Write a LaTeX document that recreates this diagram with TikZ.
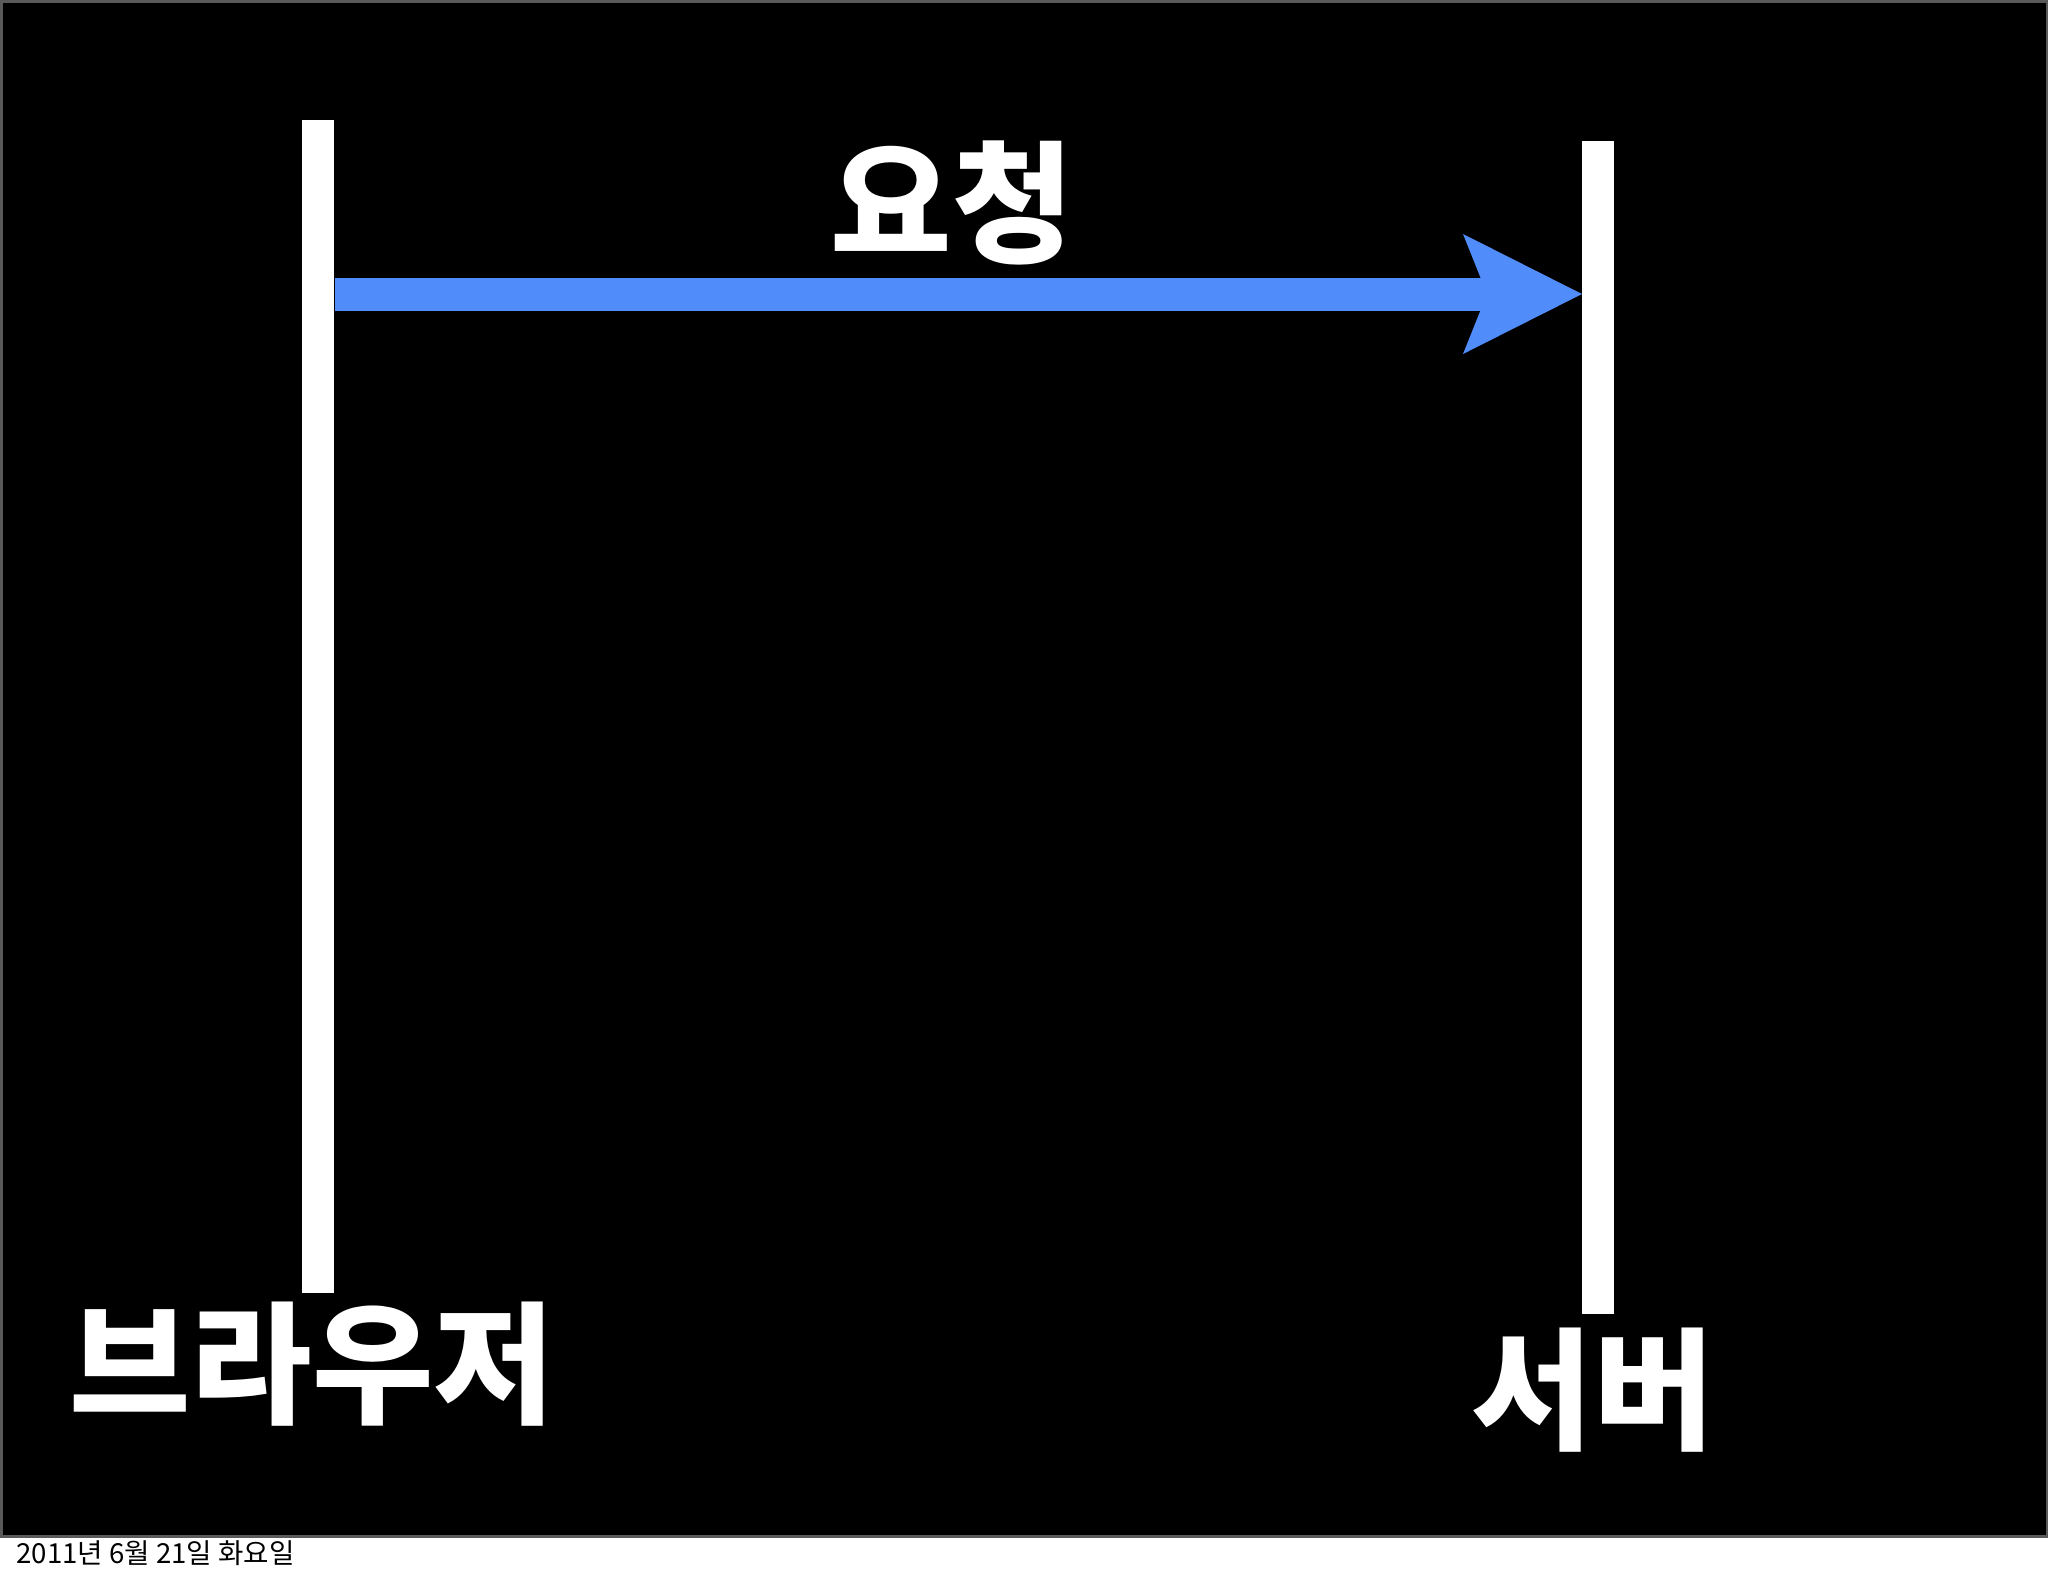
\documentclass[tikz,border=0pt]{standalone}
\usepackage{fontspec}
\usetikzlibrary{arrows.meta}
\newfontfamily\kr{Noto Sans CJK KR}
\definecolor{arrowblue}{RGB}{80,140,250}
\definecolor{framegray}{RGB}{90,90,90}
\begin{document}
\begin{tikzpicture}[x=0.5pt,y=-0.5pt,
  lifeline/.style={fill=white,draw=none,inner sep=0pt,minimum width=16pt,minimum height=586.5pt,anchor=north west},
  biglabel/.style={text=white,inner sep=0pt,font=\kr\bfseries\fontsize{66}{66}\selectfont},
  msg/.style={draw=arrowblue,line width=16.5pt,-{Stealth[length=59.5pt,width=60pt,inset=12pt,line width=0pt,fill=arrowblue]}}]
\useasboundingbox (0,0) rectangle (2048,1576);
\fill[white] (0,0) rectangle (2048,1576);
\fill[black] (0,0) rectangle (2048,1536);
\draw[framegray,line width=1.5pt] (1,1) rectangle (2047,1536);
\node[lifeline] (browser) at (302,120) {};
\node[lifeline] (server) at (1582,141) {};
\coordinate (msgstart) at ([yshift=-87pt]browser.north east);
\draw[msg] (msgstart) -- (msgstart -| server.west);
\node[biglabel] (req) at (952,203) {요청};
\node[biglabel] (blabel) at (312,1364) {브라우저};
\node[biglabel] (slabel) at (1593,1390) {서버};
\node[font=\kr\fontsize{13.8}{14}\selectfont,anchor=base west,inner sep=0pt,text=black] (date) at (16,1563) {2011년 6월 21일 화요일};
\end{tikzpicture}
\end{document}
